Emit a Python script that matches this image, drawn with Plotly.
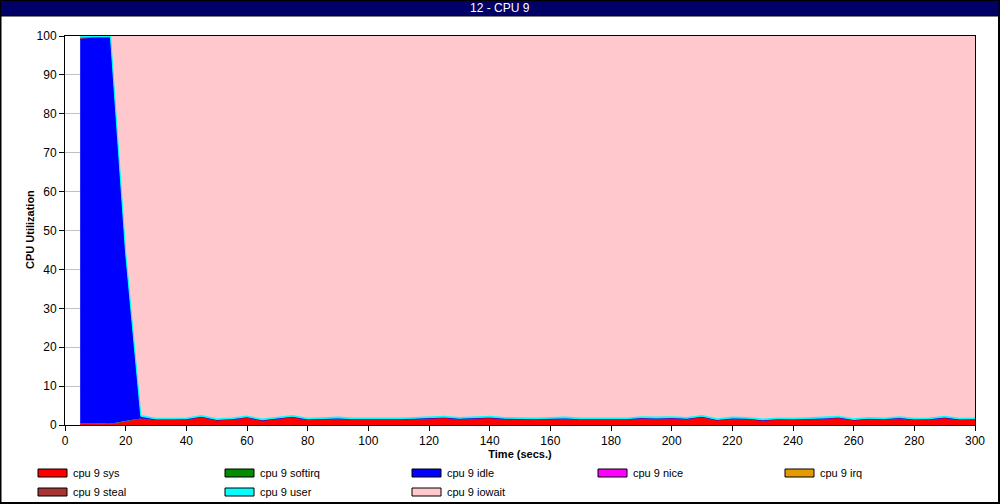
import plotly.graph_objects as go

time_secs = list(range(5, 301, 5))

cpu_sys = [0.3, 0.2, 0.1, 0.7, 1.6,
           1.4, 1.5, 1.5, 2.1, 1.3, 1.5, 2.0, 1.2, 1.6, 2.1, 1.4,
           1.6, 1.7, 1.5, 1.5, 1.4, 1.5, 1.6, 1.7, 1.9, 1.6, 1.8,
           1.9, 1.6, 1.5, 1.5, 1.6, 1.7, 1.5, 1.5, 1.6, 1.5, 1.8,
           1.7, 1.8, 1.6, 2.1, 1.3, 1.7, 1.6, 1.2, 1.5, 1.4, 1.5,
           1.7, 1.9, 1.3, 1.6, 1.5, 1.8, 1.4, 1.5, 1.9, 1.4, 1.5]
cpu_softirq = [0.2, 0.2, 0.2, 0.3, 0.1,
               0, 0, 0, 0, 0, 0, 0, 0, 0, 0, 0, 0, 0, 0, 0, 0, 0, 0, 0, 0,
               0, 0, 0, 0, 0, 0, 0, 0, 0, 0, 0, 0, 0, 0, 0, 0, 0, 0, 0, 0,
               0, 0, 0, 0, 0, 0, 0, 0, 0, 0, 0, 0, 0, 0, 0]
cpu_idle = [98.7, 99.3, 99.4, 43.0, 0.4,
            0, 0, 0, 0, 0, 0, 0, 0, 0, 0, 0, 0, 0, 0, 0, 0, 0, 0, 0, 0,
            0, 0, 0, 0, 0, 0, 0, 0, 0, 0, 0, 0, 0, 0, 0, 0, 0, 0, 0, 0,
            0, 0, 0, 0, 0, 0, 0, 0, 0, 0, 0, 0, 0, 0, 0]
cpu_nice = [0, 0, 0, 0, 0, 0, 0, 0, 0, 0, 0, 0, 0, 0, 0, 0, 0, 0, 0, 0,
            0, 0, 0, 0, 0, 0, 0, 0, 0, 0, 0, 0, 0, 0, 0, 0, 0, 0, 0, 0,
            0, 0, 0, 0, 0, 0, 0, 0, 0, 0, 0, 0, 0, 0, 0, 0, 0, 0, 0, 0]
cpu_irq = [0, 0, 0, 0, 0, 0, 0, 0, 0, 0, 0, 0, 0, 0, 0, 0, 0, 0, 0, 0,
           0, 0, 0, 0, 0, 0, 0, 0, 0, 0, 0, 0, 0, 0, 0, 0, 0, 0, 0, 0,
           0, 0, 0, 0, 0, 0, 0, 0, 0, 0, 0, 0, 0, 0, 0, 0, 0, 0, 0, 0]
cpu_steal = [0.5, 0, 0, 0, 0, 0, 0, 0, 0, 0, 0, 0, 0, 0, 0, 0, 0, 0, 0, 0,
             0, 0, 0, 0, 0, 0, 0, 0, 0, 0, 0, 0, 0, 0, 0, 0, 0, 0, 0, 0,
             0, 0, 0, 0, 0, 0, 0, 0, 0, 0, 0, 0, 0, 0, 0, 0, 0, 0, 0, 0]
cpu_user = [0.3, 0.3, 0.3, 0.3, 0.3, 0.3, 0.3, 0.3, 0.3, 0.3, 0.3, 0.3,
            0.3, 0.3, 0.3, 0.3, 0.3, 0.3, 0.3, 0.3, 0.3, 0.3, 0.3, 0.3,
            0.3, 0.3, 0.3, 0.3, 0.3, 0.3, 0.3, 0.3, 0.3, 0.3, 0.3, 0.3,
            0.3, 0.3, 0.3, 0.3, 0.3, 0.3, 0.3, 0.3, 0.3, 0.3, 0.3, 0.3,
            0.3, 0.3, 0.3, 0.3, 0.3, 0.3, 0.3, 0.3, 0.3, 0.3, 0.3, 0.3]
cpu_iowait = [0.0, 0.0, 0.0, 55.7, 97.6,
              98.3, 98.2, 98.2, 97.6, 98.4, 98.2, 97.7, 98.5, 98.1, 97.6, 98.3,
              98.1, 98.0, 98.2, 98.2, 98.3, 98.2, 98.1, 98.0, 97.8, 98.1, 97.9,
              97.8, 98.1, 98.2, 98.2, 98.1, 98.0, 98.2, 98.2, 98.1, 98.2, 97.9,
              98.0, 97.9, 98.1, 97.6, 98.4, 98.0, 98.1, 98.5, 98.2, 98.3, 98.2,
              98.0, 97.8, 98.4, 98.1, 98.2, 97.9, 98.3, 98.2, 97.8, 98.3, 98.2]

series_names = ["cpu 9 sys", "cpu 9 softirq", "cpu 9 idle", "cpu 9 nice",
                "cpu 9 irq", "cpu 9 steal", "cpu 9 user", "cpu 9 iowait"]
series_values = [cpu_sys, cpu_softirq, cpu_idle, cpu_nice,
                 cpu_irq, cpu_steal, cpu_user, cpu_iowait]
series_colors = ["#ff0000", "#008c00", "#0000ff", "#ff00ff",
                 "#e69a00", "#a83434", "#00ffff", "#ffc8cd"]
line_widths = [1, 0, 1, 0, 0, 0, 1.2, 0]

title_text = "12 - CPU 9"
x_title = "Time (secs.)"
y_title = "CPU Utilization"

FONT = "Liberation Sans, Arial, sans-serif"

fig = go.Figure()
for name, vals, col, lw in zip(series_names, series_values, series_colors, line_widths):
    fig.add_trace(go.Scatter(
        x=time_secs, y=vals, name=name, mode="lines",
        stackgroup="cpu", fillcolor=col,
        line=dict(color=col, width=lw, shape="linear"),
        showlegend=False, hoverinfo="x+y+name",
    ))

W, H = 1000, 504
L, R, T, B = 65, 25, 36, 79
pw, ph = W - L - R, H - T - B


def px(xp):
    return (xp - L) / pw


def py(yp):
    return (H - B - yp) / ph


shapes = []
annotations = []
# outer border
shapes.append(dict(type="rect", xref="paper", yref="paper",
                   x0=px(0.5), x1=px(W - 1), y0=py(H - 1), y1=py(0.5),
                   line=dict(color="black", width=2), fillcolor="rgba(0,0,0,0)", layer="above"))
# title bar
shapes.append(dict(type="rect", xref="paper", yref="paper",
                   x0=px(0.5), x1=px(W - 1), y0=py(16), y1=py(0.5),
                   line=dict(color="black", width=1), fillcolor="#000066", layer="above"))
annotations.append(dict(text=title_text, xref="paper", yref="paper",
                        x=px(500), y=py(8), showarrow=False,
                        font=dict(color="white", size=12, family=FONT),
                        xanchor="center", yanchor="middle"))
# y-axis title
annotations.append(dict(text="<b>" + y_title + "</b>", xref="paper", yref="paper",
                        x=px(30), y=py(230), showarrow=False, textangle=-90,
                        font=dict(color="black", size=11, family=FONT),
                        xanchor="center", yanchor="middle"))

# legend (manual)
col_x = [38, 225, 412, 598, 785]
row_y = [473, 492]
for i, (name, col) in enumerate(zip(series_names, series_colors)):
    r, c = divmod(i, 5)
    x0 = col_x[c]
    yc = row_y[r]
    shapes.append(dict(type="rect", xref="paper", yref="paper",
                       x0=px(x0), x1=px(x0 + 29), y0=py(yc + 4), y1=py(yc - 4),
                       line=dict(color="black", width=1), fillcolor=col))
    annotations.append(dict(text=name, xref="paper", yref="paper",
                            x=px(x0 + 33), y=py(yc), showarrow=False,
                            font=dict(color="black", size=11, family=FONT),
                            xanchor="left", yanchor="middle"))

fig.update_layout(
    width=W, height=H,
    margin=dict(l=L, r=R, t=T, b=B, pad=0),
    paper_bgcolor="white", plot_bgcolor="white",
    font=dict(family=FONT, size=11, color="black"),
    shapes=shapes, annotations=annotations,
    showlegend=False,
    xaxis=dict(range=[0, 300], tickmode="linear", tick0=0, dtick=20,
               showgrid=False, zeroline=False,
               showline=True, linecolor="black", linewidth=1, mirror=True,
               ticks="outside", ticklen=5, tickcolor="black",
               tickfont=dict(size=12, family=FONT),
               title=dict(text="<b>" + x_title + "</b>", font=dict(size=11, family=FONT), standoff=1)),
    yaxis=dict(range=[0, 100], tickmode="linear", tick0=0, dtick=10,
               showgrid=True, gridcolor="#c0c0c0", gridwidth=1, zeroline=False,
               showline=True, linecolor="black", linewidth=1, mirror=True,
               ticks="outside", ticklen=5, tickcolor="black",
               tickfont=dict(size=12, family=FONT)),
)

fig.write_html("out.html", config={"displayModeBar": False},
               post_script="document.body.style.margin='0';document.body.style.overflow='hidden';")
